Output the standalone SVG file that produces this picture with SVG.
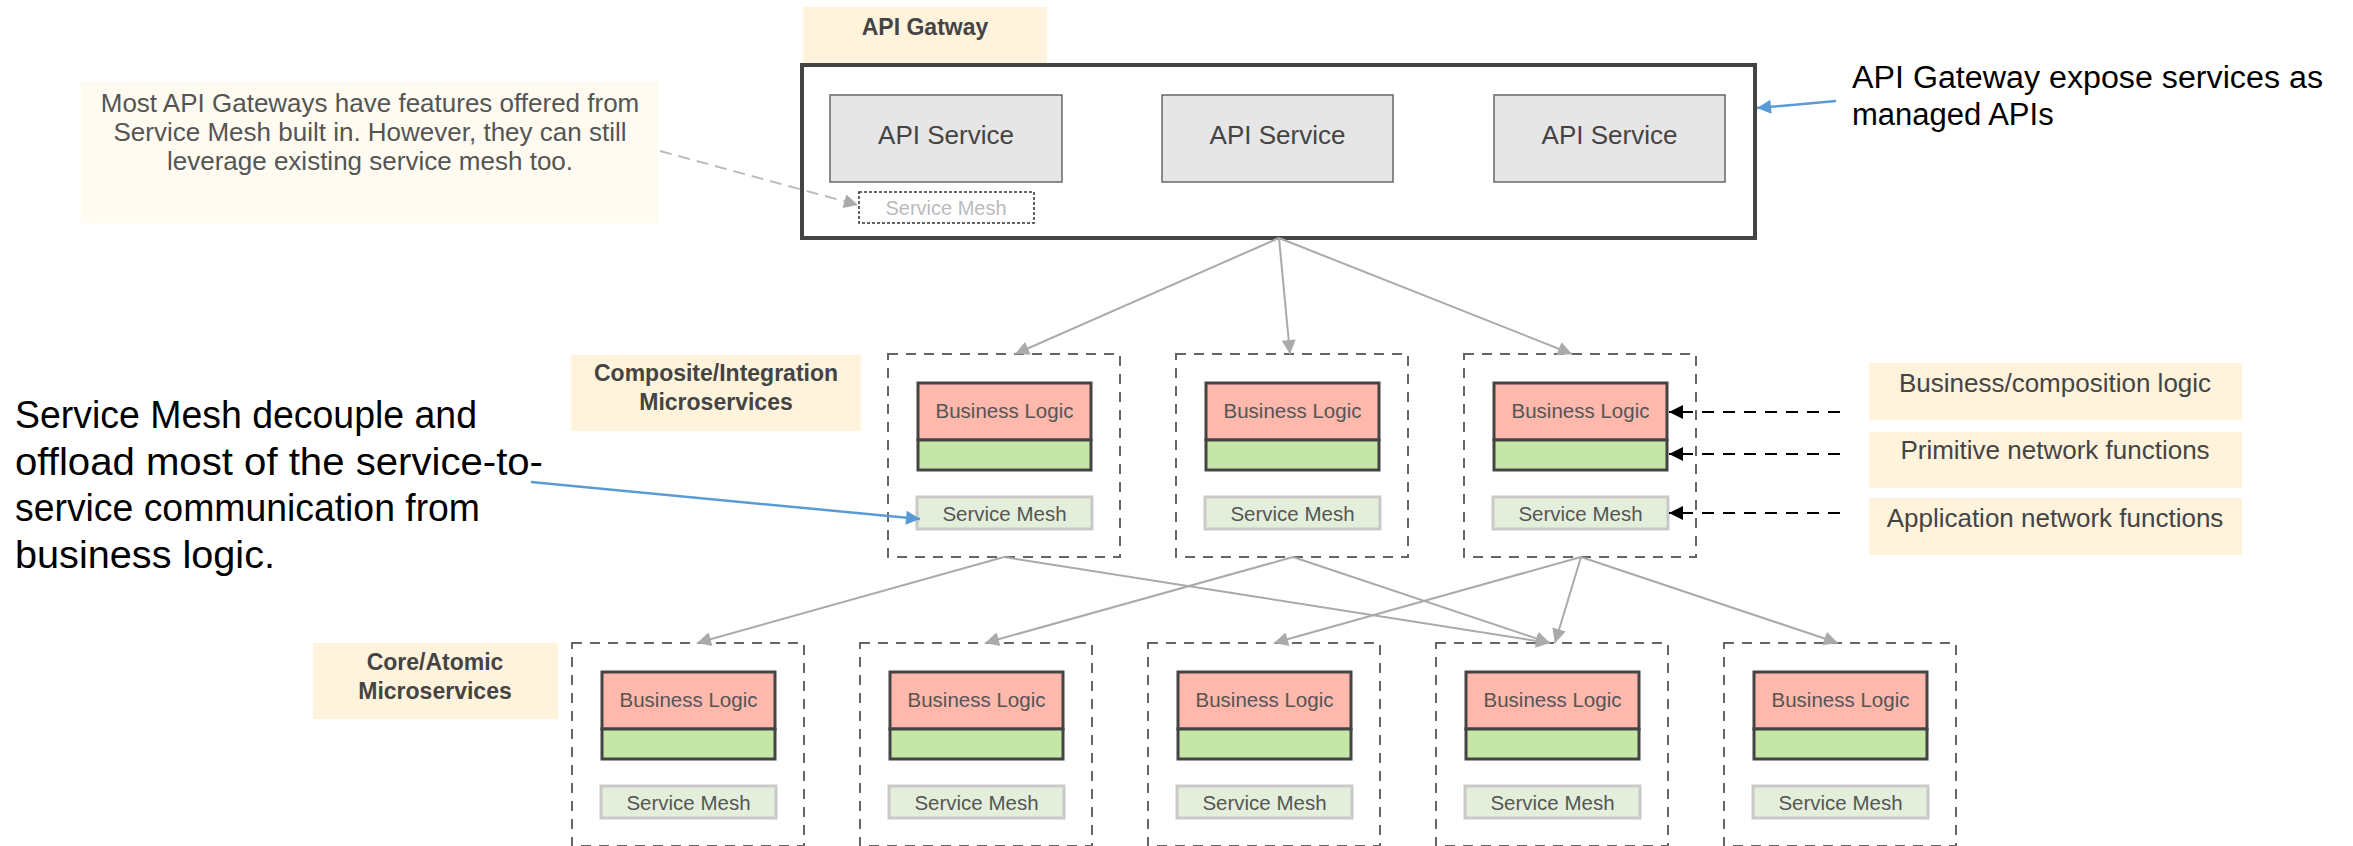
<svg xmlns="http://www.w3.org/2000/svg" width="2353" height="846" viewBox="0 0 2353 846">
<style>
text{font-family:"Liberation Sans",Arial,sans-serif}
.lbl{fill:#fff3dc}
.lbt{font-weight:bold;font-size:23px;fill:#444;text-anchor:middle}
.api{fill:#e6e6e6;stroke:#666;stroke-width:1.5}
.apit{font-size:26px;fill:#444;text-anchor:middle}
.dbox{fill:none;stroke:#666;stroke-width:2;stroke-dasharray:10 8}
.bl{fill:#ffb8ac;stroke:#444;stroke-width:3}
.gr{fill:#c6e6a8;stroke:#444;stroke-width:3}
.sm{fill:#e3efdb;stroke:#c9c9c9;stroke-width:3}
.t20{font-size:20.5px;fill:#555;text-anchor:middle}
.gcon{fill:none;stroke:#aaa;stroke-width:2}
.rt{font-size:26px;fill:#444;text-anchor:middle}
.big{font-size:38px;fill:#000}
</style>
<defs>
<marker id="ag" viewBox="0 0 10 10" refX="10" refY="5" markerWidth="20" markerHeight="14" markerUnits="userSpaceOnUse" orient="auto"><path d="M0,0 L10,5 L0,10 z" fill="#aaa"/></marker>
<marker id="ak" viewBox="0 0 10 10" refX="10" refY="5" markerWidth="18" markerHeight="14" markerUnits="userSpaceOnUse" orient="auto"><path d="M0,0 L10,5 L0,10 z" fill="#000"/></marker>
<marker id="ab" viewBox="0 0 10 10" refX="10" refY="5" markerWidth="18" markerHeight="14" markerUnits="userSpaceOnUse" orient="auto"><path d="M0,0 L10,5 L0,10 z" fill="#5b9bd5"/></marker>
<g id="svc">
<rect class="dbox" x="0" y="0" width="232" height="203"/>
<rect class="bl" x="30" y="29" width="173" height="57"/>
<rect class="gr" x="30" y="86" width="173" height="30"/>
<text class="t20" x="116.5" y="64">Business Logic</text>
<rect class="sm" x="29" y="143" width="175" height="32"/>
<text class="t20" x="116.5" y="167">Service Mesh</text>
</g>
</defs>

<g id="gw-label">
<rect class="lbl" x="803" y="7" width="244" height="57"/>
<text class="lbt" x="925" y="35">API Gatway</text>
</g>

<g id="gateway">
<rect x="802" y="65" width="953" height="173" fill="#fff" stroke="#444" stroke-width="4"/>
<rect class="api" x="830" y="95" width="232" height="87"/>
<text class="apit" x="946" y="144">API Service</text>
<rect class="api" x="1162" y="95" width="231" height="87"/>
<text class="apit" x="1277.5" y="144">API Service</text>
<rect class="api" x="1494" y="95" width="231" height="87"/>
<text class="apit" x="1609.5" y="144">API Service</text>
<rect x="859" y="192" width="175" height="31" fill="#fff" stroke="#333" stroke-width="1.5" stroke-dasharray="3 2"/>
<text x="946" y="215" font-size="20" fill="#bbb" text-anchor="middle">Service Mesh</text>
</g>

<g id="note">
<rect x="81" y="82" width="577" height="141" fill="#fffbf0"/>
<text x="370" y="112" font-size="26" fill="#555" text-anchor="middle">Most API Gateways have features offered from</text>
<text x="370" y="141" font-size="26" fill="#555" text-anchor="middle">Service Mesh built in. However, they can still</text>
<text x="370" y="170" font-size="26" fill="#555" text-anchor="middle">leverage existing service mesh too.</text>
</g>

<g id="gw-callout">
<text x="1852" y="88" font-family="Lato, 'Open Sans', sans-serif" font-size="31" fill="#000" textLength="471" lengthAdjust="spacingAndGlyphs">API Gateway expose services as</text>
<text x="1852" y="125" font-family="Lato, 'Open Sans', sans-serif" font-size="31" fill="#000">managed APIs</text>
</g>

<g id="comp-label">
<rect class="lbl" x="571" y="355" width="290" height="76"/>
<text class="lbt" x="716" y="381">Composite/Integration</text>
<text class="lbt" x="716" y="410">Microservices</text>
</g>

<g id="core-label">
<rect class="lbl" x="313" y="643" width="245" height="76"/>
<text class="lbt" x="435" y="670">Core/Atomic</text>
<text class="lbt" x="435" y="699">Microservices</text>
</g>

<g id="mesh-callout">
<text class="big" x="15" y="428" textLength="462" lengthAdjust="spacingAndGlyphs">Service Mesh decouple and</text>
<text class="big" x="15" y="474.5" textLength="528" lengthAdjust="spacingAndGlyphs">offload most of the service-to-</text>
<text class="big" x="15" y="521" textLength="465" lengthAdjust="spacingAndGlyphs">service communication from</text>
<text class="big" x="15" y="567.5" textLength="260" lengthAdjust="spacingAndGlyphs">business logic.</text>
</g>

<g id="comp1"><use href="#svc" x="888" y="354"/></g>
<g id="comp2"><use href="#svc" x="1176" y="354"/></g>
<g id="comp3"><use href="#svc" x="1464" y="354"/></g>

<g id="core1"><use href="#svc" x="572" y="643"/></g>
<g id="core2"><use href="#svc" x="860" y="643"/></g>
<g id="core3"><use href="#svc" x="1148" y="643"/></g>
<g id="core4"><use href="#svc" x="1436" y="643"/></g>
<g id="core5"><use href="#svc" x="1724" y="643"/></g>

<g id="lbl-business">
<rect class="lbl" x="1869" y="363" width="373" height="57"/>
<text class="rt" x="2055" y="392">Business/composition logic</text>
</g>
<g id="lbl-primitive">
<rect class="lbl" x="1869" y="432" width="373" height="56"/>
<text class="rt" x="2055" y="459">Primitive network functions</text>
</g>
<g id="lbl-application">
<rect class="lbl" x="1869" y="498" width="373" height="57"/>
<text class="rt" x="2055" y="527">Application network functions</text>
</g>

<g id="connectors">
<line class="gcon" x1="1279" y1="238" x2="1015" y2="354" marker-end="url(#ag)"/>
<line class="gcon" x1="1279" y1="238" x2="1290" y2="354" marker-end="url(#ag)"/>
<line class="gcon" x1="1279" y1="238" x2="1572" y2="354" marker-end="url(#ag)"/>
<line class="gcon" x1="1004" y1="557" x2="697" y2="643" marker-end="url(#ag)"/>
<line class="gcon" x1="1004" y1="557" x2="1550" y2="643" marker-end="url(#ag)"/>
<line class="gcon" x1="1293" y1="557" x2="985" y2="643" marker-end="url(#ag)"/>
<line class="gcon" x1="1293" y1="557" x2="1550" y2="643" marker-end="url(#ag)" stroke="#999"/>
<line class="gcon" x1="1581" y1="557" x2="1274" y2="643" marker-end="url(#ag)"/>
<line class="gcon" x1="1581" y1="557" x2="1555" y2="643" marker-end="url(#ag)"/>
<line class="gcon" x1="1581" y1="557" x2="1838" y2="643" marker-end="url(#ag)"/>
<line x1="660" y1="151" x2="858" y2="205" stroke="#bbb" stroke-width="2" stroke-dasharray="12 7" marker-end="url(#ag)"/>
<line x1="1840" y1="412" x2="1669" y2="412" stroke="#000" stroke-width="2" stroke-dasharray="12 9" marker-end="url(#ak)"/>
<line x1="1840" y1="454" x2="1669" y2="454" stroke="#000" stroke-width="2" stroke-dasharray="12 9" marker-end="url(#ak)"/>
<line x1="1840" y1="513" x2="1669" y2="513" stroke="#000" stroke-width="2" stroke-dasharray="12 9" marker-end="url(#ak)"/>
<line x1="531" y1="482" x2="920" y2="519" stroke="#5b9bd5" stroke-width="2.5" marker-end="url(#ab)"/>
<line x1="1836" y1="101" x2="1757" y2="108" stroke="#5b9bd5" stroke-width="2.5" marker-end="url(#ab)"/>
</g>
</svg>
